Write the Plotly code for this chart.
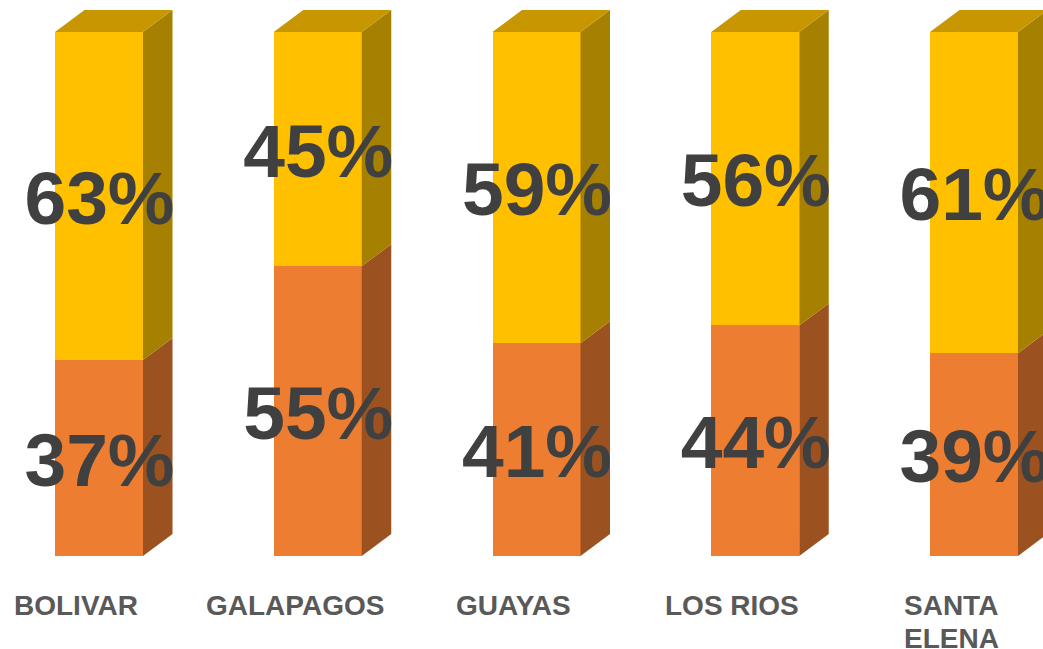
import plotly.graph_objects as go

categories = ["BOLIVAR", "GALAPAGOS", "GUAYAS", "LOS RIOS", "SANTA<br>ELENA"]
lower_values = [37.4, 55.3, 40.6, 44.0, 38.7]
upper_values = [62.6, 44.7, 59.4, 56.0, 61.3]
lower_labels = ["37%", "55%", "41%", "44%", "39%"]
upper_labels = ["63%", "45%", "59%", "56%", "61%"]

UNIT_X = 218.75   # px per category
UNIT_Y = 5.24     # px per percent
BAR_W = 88 / UNIT_X
DX = 29.5 / UNIT_X
DY = 22 / UNIT_Y

YELLOW, YELLOW_SIDE, YELLOW_TOP = "#FFC000", "#A68000", "#C79600"
ORANGE, ORANGE_SIDE = "#ED7D31", "#9C5220"
TEXT_DARK, TEXT_GREY = "#404040", "#595959"

xs = list(range(len(categories)))
fig = go.Figure()


def poly(px, py, color):
    fig.add_trace(go.Scatter(x=px, y=py, mode="lines", fill="toself", fillcolor=color,
                             line=dict(width=0), hoverinfo="skip", showlegend=False))


fig.add_trace(go.Bar(x=xs, y=lower_values, width=BAR_W, marker=dict(color=ORANGE, line=dict(width=0)),
                     showlegend=False))
fig.add_trace(go.Bar(x=xs, y=upper_values, width=BAR_W, marker=dict(color=YELLOW, line=dict(width=0)),
                     showlegend=False))

for x, lo, up in zip(xs, lower_values, upper_values):
    r = x + BAR_W / 2
    l = x - BAR_W / 2
    t = lo + up
    poly([r, r + DX, r + DX, r, r], [0, DY, lo + DY, lo, 0], ORANGE_SIDE)
    poly([r, r + DX, r + DX, r, r], [lo, lo + DY, t + DY, t, lo], YELLOW_SIDE)
    poly([l, l + DX, r + DX, r, l], [t, t + DY, t + DY, t, t], YELLOW_TOP)

label_drop = 9 / UNIT_Y
label_xs = [x + 0.5 / UNIT_X for x in xs]
lower_mid = [v / 2 - label_drop for v in lower_values]
upper_mid = [lo + up / 2 - label_drop for lo, up in zip(lower_values, upper_values)]
for ys, labels in ((lower_mid, lower_labels), (upper_mid, upper_labels)):
    fig.add_trace(go.Scatter(x=label_xs, y=ys, text=labels, mode="text", textposition="middle center",
                             textfont=dict(family="Liberation Sans", size=75, color=TEXT_DARK,
                                           weight="bold"),
                             cliponaxis=False, hoverinfo="skip", showlegend=False))

fig.update_layout(
    barmode="stack",
    width=1043, height=649,
    autosize=False,
    margin=dict(l=0, r=0, t=0, b=0),
    paper_bgcolor="white",
    plot_bgcolor="white",
    xaxis=dict(range=[-99 / UNIT_X, (1043 - 99) / UNIT_X], visible=False, fixedrange=True),
    yaxis=dict(range=[-93 / UNIT_Y, 100 + 32 / UNIT_Y], visible=False, fixedrange=True),
)

for x, c in zip(xs, categories):
    for i, line in enumerate(c.split("<br>")):
        fig.add_annotation(x=x - 23 / UNIT_X, y=-(49.5 + 33 * i) / UNIT_Y, yanchor="middle", text=line,
                           showarrow=False,
                           font=dict(family="Liberation Sans", size=28, color=TEXT_GREY, weight="bold"))

fig.write_html("out.html", config=dict(displayModeBar=False),
               post_script="document.body.style.margin='0';document.body.style.overflow='hidden';")
